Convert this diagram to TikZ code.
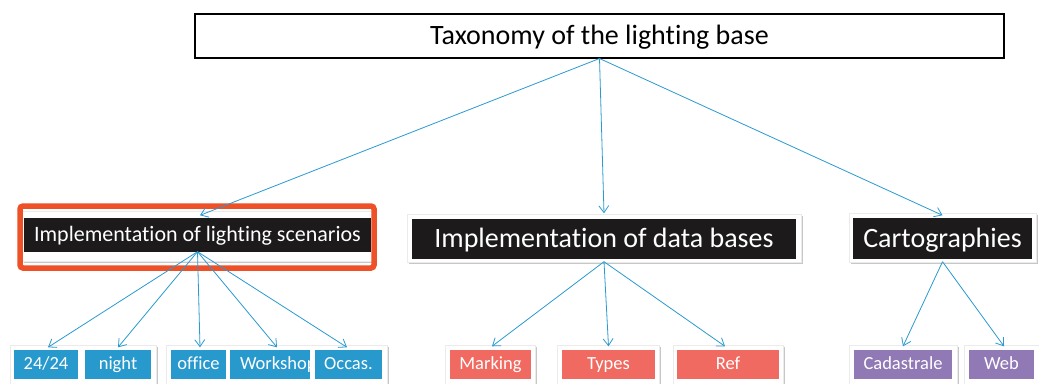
\documentclass[tikz,border=0pt]{standalone}
\usepackage{fontspec}
\setmainfont{Carlito}[Ligatures={NoCommon}]
\usetikzlibrary{arrows.meta}
\definecolor{lnblue}{HTML}{2A9AD0}
\definecolor{bxblue}{HTML}{2899CC}
\definecolor{bxred}{HTML}{F06A62}
\definecolor{bxpurple}{HTML}{9079B5}
\definecolor{bxblack}{HTML}{1C1A1B}
\definecolor{hilite}{HTML}{EE5127}
\begin{document}
\begin{tikzpicture}[x=1pt,y=-1pt,
  frame/.style={fill=white,draw=black!8,line width=0.6pt,
    preaction={fill=black!22,transform canvas={shift={(1.5pt,-2pt)}}}},
  darkbox/.style={fill=bxblack,text=white,inner sep=0pt,text depth=0pt},
  leaf/.style={text=white,inner sep=0pt,minimum height=29pt,text height=11.9pt,text depth=0pt,
    font=\fontsize{18.5}{20}\selectfont},
  conn/.style={draw=lnblue,line width=0.8pt,-{Straight Barb[length=7pt,width=10pt,line width=0.8pt]}}]
\useasboundingbox (0,0) rectangle (1039,383);
\clip (0,0) rectangle (1039,383);
\fill[white] (0,0) rectangle (1039,383);

% top node
\node[draw=black,line width=2pt,inner sep=0pt,minimum width=809pt,minimum height=44pt,
  text height=18pt,text depth=0pt,
  font=\fontsize{28}{32}\selectfont] (top) at (599.5,35.5) {Taxonomy of the lighting base};

% level 2
\path[frame] (22,211) rectangle (373,261);
\node[darkbox,minimum width=347pt,minimum height=34pt,text height=14.2pt,font=\fontsize{22}{26}\selectfont]
  (ls) at (197.5,234.5) {Implementation of lighting scenarios};
\draw[hilite,line width=5.5pt,rounded corners=3pt] (20,206) rectangle (374,268);

\path[frame] (407,214) rectangle (801,262);
\node[darkbox,minimum width=384pt,minimum height=40pt,text height=18pt,font=\fontsize{28}{32}\selectfont]
  (db) at (604,238.5) {Implementation of data bases};

\path[frame] (849,213) rectangle (1036,262);
\node[darkbox,minimum width=179pt,minimum height=41pt,text height=18pt,font=\fontsize{28}{32}\selectfont]
  (ca) at (942.5,238) {Cartographies};

% leaf frames
\path[frame] (10,345) rectangle (156,395);
\path[frame] (166,345) rectangle (387,395);
\path[frame] (445,345) rectangle (535,395);
\path[frame] (557,345) rectangle (659,395);
\path[frame] (673,345) rectangle (783,395);
\path[frame] (849,345) rectangle (957,395);
\path[frame] (964,345) rectangle (1045,395);

% leaves
\node[leaf,fill=bxblue,minimum width=64pt] (l1) at (46,364) {24/24};
\node[leaf,fill=bxblue,minimum width=66pt] (l2) at (118,364) {night};
\node[leaf,fill=bxblue,minimum width=55pt] (l3) at (198.5,364) {office};
\begin{scope}
  \clip (230,349.5) rectangle (310,378.5);
  \node[leaf,fill=bxblue,minimum width=80pt] (l4) at (270,364) {\makebox[80pt][l]{\hspace*{10pt}Workshop}};
\end{scope}
\node[leaf,fill=bxblue,minimum width=67pt] (l5) at (348.5,364) {Occas.};

\node[leaf,fill=bxred,minimum width=81pt] (m1) at (490.5,364) {Marking};
\node[leaf,fill=bxred,minimum width=93pt] (m2) at (608.5,364) {Types};
\node[leaf,fill=bxred,minimum width=102pt] (m3) at (728,364) {Ref};

\node[leaf,fill=bxpurple,minimum width=98pt] (c1) at (903,364) {Cadastrale};
\node[leaf,fill=bxpurple,minimum width=65pt] (c2) at (1001.5,364) {Web};

% connectors
\draw[conn] (top.south) -- ([xshift=2.5pt,yshift=2pt]ls.north);
\draw[conn] (top.south) -- ([yshift=5pt]db.north);
\draw[conn] (top.south) -- ([yshift=2pt]ca.north);

\draw[conn] (ls.south) -- ([xshift=2pt,yshift=2pt]l1.north);
\draw[conn] (ls.south) -- ([yshift=2pt]l2.north);
\draw[conn] (ls.south) -- ([xshift=1.5pt,yshift=2pt]l3.north);
\draw[conn] (ls.south) -- ([xshift=7pt,yshift=2pt]l4.north);
\draw[conn] (ls.south) -- ([xshift=-1.5pt,yshift=2pt]l5.north);

\draw[conn] ([yshift=-3pt]db.south) -- ([xshift=1.5pt,yshift=3pt]m1.north);
\draw[conn] ([yshift=-3pt]db.south) -- ([yshift=3pt]m2.north);
\draw[conn] ([yshift=-3pt]db.south) -- ([xshift=-3pt,yshift=3pt]m3.north);

\draw[conn] ([yshift=-3pt]ca.south) -- ([yshift=3pt]c1.north);
\draw[conn] ([yshift=-3pt]ca.south) -- ([xshift=2.5pt,yshift=3pt]c2.north);
\end{tikzpicture}
\end{document}
